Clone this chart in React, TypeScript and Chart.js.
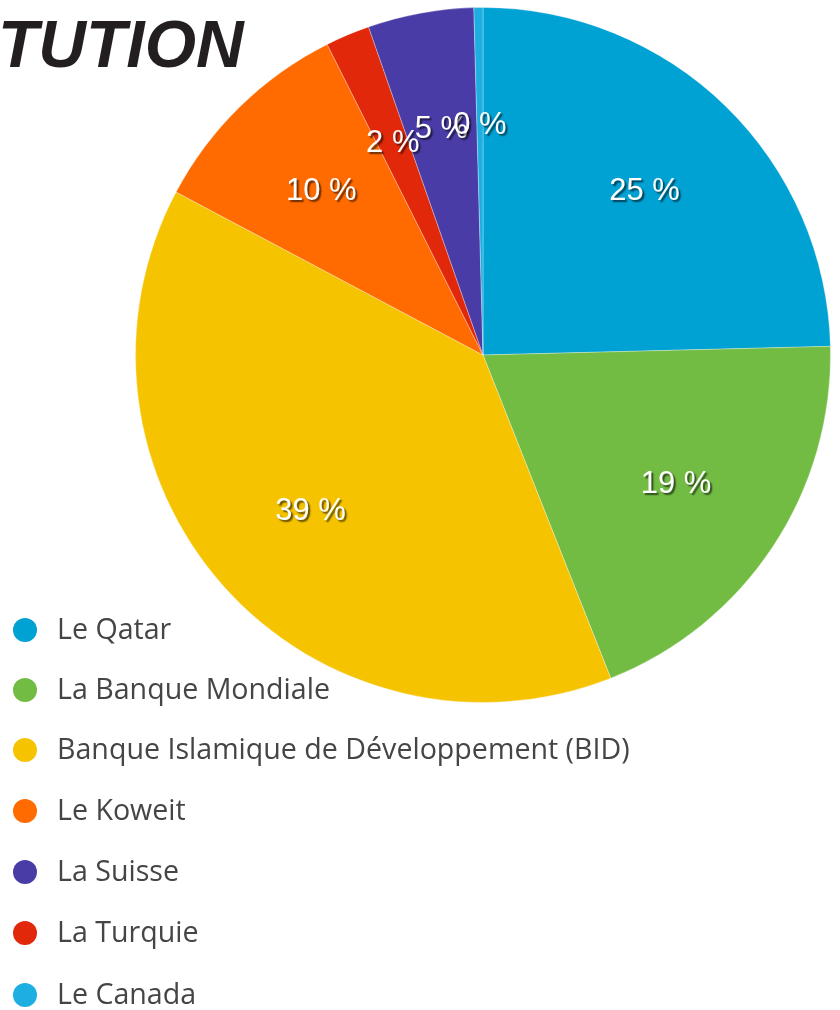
import React, { useEffect, useRef } from "react";
import { Chart, registerables } from "chart.js";

Chart.register(...registerables);

const categories = [
  "Le Qatar",
  "La Banque Mondiale",
  "Banque Islamique de Développement (BID)",
  "Le Koweit",
  "La Suisse",
  "La Turquie",
  "Le Canada",
];
const shares = [24.6, 19.4, 38.75, 9.83, 4.92, 2.06, 0.42];
// order of slices clockwise from top: Qatar, BM, BID, Koweit, Turquie, Suisse, Canada
const sliceOrder = [0, 1, 2, 3, 5, 4, 6];
const colors = ["#00A1D3", "#72BC44", "#F5C300", "#FF6B00", "#4A3CA6", "#E2280A", "#1DAFE1"];
const title = "TUTION";

const labelPlugin = {
  id: "sliceLabels",
  afterDatasetsDraw(chart: any) {
    const ctx = chart.ctx;
    const meta = chart.getDatasetMeta(0);
    const data = chart.data.datasets[0].data as number[];
    ctx.save();
    ctx.font = "31px 'Liberation Sans', Arial, sans-serif";
    ctx.textAlign = "center";
    ctx.textBaseline = "middle";
    ctx.fillStyle = "#ffffff";
    ctx.shadowColor = "rgba(0,0,0,0.6)";
    ctx.shadowOffsetX = 2;
    ctx.shadowOffsetY = 2;
    ctx.shadowBlur = 1.5;
    meta.data.forEach((arc: any, i: number) => {
      const p = arc.getProps(["x", "y", "startAngle", "endAngle", "outerRadius"], true);
      const mid = (p.startAngle + p.endAngle) / 2;
      const r = p.outerRadius * 0.666;
      const x = p.x + Math.cos(mid) * r;
      const y = p.y + Math.sin(mid) * r + 2;
      ctx.fillText(`${Math.round(data[i])} %`, x, y);
    });
    ctx.restore();
  },
};

export default function App() {
  const ref = useRef<HTMLCanvasElement | null>(null);
  useEffect(() => {
    if (!ref.current) return;
    const chart = new Chart(ref.current, {
      type: "pie",
      data: {
        labels: sliceOrder.map((i) => categories[i]),
        datasets: [
          {
            data: sliceOrder.map((i) => shares[i]),
            backgroundColor: sliceOrder.map((i) => colors[i]),
            borderWidth: 1,
            borderColor: "rgba(255,255,255,0.3)",
            hoverOffset: 0,
          },
        ],
      },
      options: {
        responsive: false,
        animation: false,
        layout: { padding: { left: 135, right: 9, top: 7, bottom: 307 } },
        plugins: {
          legend: { display: false },
          tooltip: { enabled: false },
        },
      },
      plugins: [labelPlugin],
    });
    return () => chart.destroy();
  }, []);

  const rowY = [630, 690, 750, 811, 872, 933, 995];

  return (
    <div style={{ position: "absolute", left: 0, top: 0, width: 840, height: 1010, background: "#fff", overflow: "hidden" }}>
      <canvas ref={ref} width={840} height={1010} style={{ position: "absolute", left: 0, top: 0 }} />
      <div
        style={{
          position: "absolute",
          left: -2,
          top: 10,
          fontFamily: "'Liberation Sans', Arial, sans-serif",
          fontWeight: "bold",
          fontStyle: "italic",
          fontSize: 66,
          lineHeight: "68px",
          color: "#231F20",
          whiteSpace: "nowrap",
        }}
      >
        {title}
      </div>
      {categories.map((c, i) => (
        <div
          key={c}
          style={{
            position: "absolute",
            left: 13,
            top: rowY[i] - 15,
            height: 30,
            display: "flex",
            alignItems: "center",
            whiteSpace: "nowrap",
          }}
        >
          <span
            style={{
              display: "inline-block",
              width: 24,
              height: 24,
              borderRadius: "50%",
              background: colors[i],
            }}
          />
          <span
            style={{
              marginLeft: 20,
              position: "relative",
              top: -3,
              fontFamily: "'Open Sans', sans-serif",
              fontSize: 28.6,
              color: "#454545",
            }}
          >
            {c}
          </span>
        </div>
      ))}
    </div>
  );
}
